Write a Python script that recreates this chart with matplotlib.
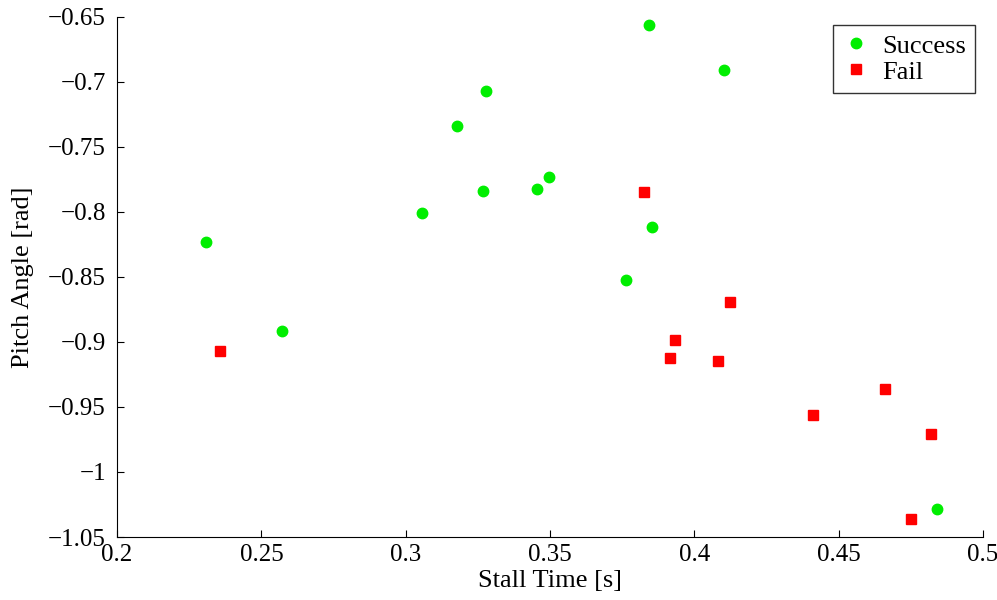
import matplotlib
matplotlib.use("Agg")
import matplotlib.pyplot as plt

# data
success_x = [0.2308, 0.2572, 0.3057, 0.3178, 0.3278, 0.3268, 0.3455, 0.3497,
             0.3763, 0.3843, 0.3853, 0.4103, 0.4841]
success_y = [-0.8231, -0.8915, -0.8008, -0.7338, -0.7069, -0.7838, -0.7823, -0.7731,
             -0.8523, -0.6562, -0.8115, -0.6908, -1.0285]
fail_x = [0.2357, 0.3826, 0.3916, 0.3933, 0.4082, 0.4124, 0.4411, 0.4661, 0.4820, 0.4751]
fail_y = [-0.9069, -0.7846, -0.9123, -0.8985, -0.9146, -0.8692, -0.9562, -0.9362, -0.9708, -1.0362]

xticks = [0.2, 0.25, 0.3, 0.35, 0.4, 0.45, 0.5]
yticks = [-1.05, -1.0, -0.95, -0.9, -0.85, -0.8, -0.75, -0.7, -0.65]
xtick_labels = ["0.2", "0.25", "0.3", "0.35", "0.4", "0.45", "0.5"]
ytick_labels = ["\u22121.05", "\u22121", "\u22120.95", "\u22120.9", "\u22120.85",
                "\u22120.8", "\u22120.75", "\u22120.7", "\u22120.65"]

plt.rcParams['font.family'] = ['Liberation Serif', 'DejaVu Serif']

fig = plt.figure(figsize=(9.97, 6.0), dpi=100)
ax = fig.add_axes([0.1174, 0.105, 0.8686, 0.8667])

ax.plot(success_x, success_y, 'o', color='#00ee00', markersize=7.5, label='Success', linestyle='none')
ax.plot(fail_x, fail_y, 's', color='#ff0000', markersize=7.5, label='Fail', linestyle='none')

ax.set_xlim(0.2, 0.5)
ax.set_ylim(-1.05, -0.65)
ax.set_xticks(xticks)
ax.set_xticklabels(xtick_labels)
ax.set_yticks(yticks)
ax.set_yticklabels(ytick_labels)
ax.tick_params(direction='in', length=5, labelsize=18, width=0.8)
ax.tick_params(axis='y', pad=8)
ax.tick_params(axis='x', pad=5)

ax.spines['top'].set_visible(False)
ax.spines['right'].set_visible(False)

ax.set_xlabel('Stall Time [s]', fontsize=19, labelpad=3)
ax.set_ylabel('Pitch Angle [rad]', fontsize=19, labelpad=10)

leg = ax.legend(loc='upper right', fontsize=19, frameon=True, fancybox=False,
                edgecolor='black', borderaxespad=0.3, handletextpad=0.5,
                labelspacing=0.1, handlelength=1.0, borderpad=0.35)
leg.get_frame().set_linewidth(1.0)

fig.savefig('out.png', dpi=100)
